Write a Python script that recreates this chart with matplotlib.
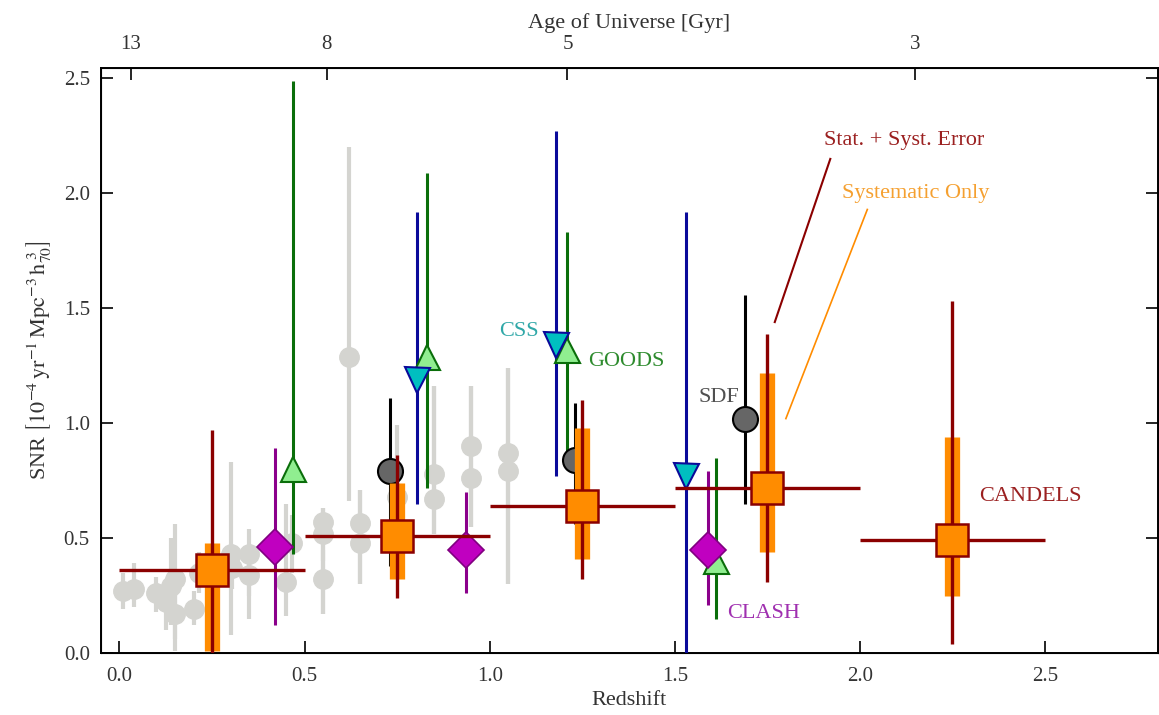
import numpy as np
import matplotlib
matplotlib.use("Agg")
import matplotlib.pyplot as plt

# ============================================================
# DATA
# ============================================================

# literature points (grey): redshift, SNR, lower bound, upper bound
gray_z = [0.01, 0.04, 0.10, 0.125, 0.14, 0.15, 0.15, 0.20, 0.215, 0.30,
          0.305, 0.35, 0.35, 0.45, 0.465, 0.55, 0.55, 0.55, 0.62, 0.65,
          0.65, 0.75, 0.85, 0.85, 0.95, 0.95, 1.05, 1.05]
gray_snr = [0.27, 0.28, 0.26, 0.22, 0.29, 0.32, 0.17, 0.19, 0.35, 0.43,
            0.37, 0.43, 0.34, 0.31, 0.48, 0.57, 0.52, 0.32, 1.29, 0.565,
            0.48, 0.68, 0.78, 0.67, 0.90, 0.76, 0.87, 0.79]
gray_lo = [0.19, 0.20, 0.18, 0.10, 0.12, 0.01, 0.06, 0.12, 0.26, 0.08,
           0.28, 0.15, 0.25, 0.16, 0.35, 0.17, 0.40, 0.17, 0.66, 0.30,
           0.30, 0.45, 0.52, 0.52, 0.55, 0.55, 0.30, 0.30]
gray_hi = [0.35, 0.39, 0.33, 0.30, 0.50, 0.56, 0.28, 0.27, 0.44, 0.83,
           0.47, 0.54, 0.43, 0.65, 0.60, 0.63, 0.63, 0.45, 2.20, 0.71,
           0.71, 0.99, 1.16, 1.16, 1.16, 1.16, 1.24, 1.24]

# GOODS
goods_z = [0.47, 0.83, 1.21, 1.61]
goods_snr = [0.80, 1.29, 1.32, 0.40]
goods_lo = [0.43, 0.72, 0.88, 0.15]
goods_hi = [2.49, 2.09, 1.83, 0.85]

# CSS
css_z = [0.805, 1.18, 1.53]
css_snr = [1.19, 1.34, 0.77]
css_lo = [0.65, 0.77, 0.0]
css_hi = [1.92, 2.27, 1.92]

# SDF
sdf_z = [0.73, 1.23, 1.69]
sdf_snr = [0.79, 0.84, 1.02]
sdf_lo = [0.38, 0.56, 0.65]
sdf_hi = [1.11, 1.09, 1.56]

# CLASH
clash_z = [0.42, 0.935, 1.59]
clash_snr = [0.46, 0.45, 0.45]
clash_lo = [0.12, 0.26, 0.21]
clash_hi = [0.89, 0.70, 0.79]

# CANDELS
candels_z = [0.25, 0.75, 1.25, 1.75, 2.25]
candels_zlo = [0.0, 0.5, 1.0, 1.5, 2.0]
candels_zhi = [0.5, 1.0, 1.5, 2.0, 2.5]
candels_snr = [0.36, 0.51, 0.64, 0.72, 0.49]
candels_tot_lo = [0.0, 0.24, 0.32, 0.31, 0.04]
candels_tot_hi = [0.97, 0.86, 1.10, 1.39, 1.53]
candels_sys_lo = [0.01, 0.32, 0.41, 0.44, 0.25]
candels_sys_hi = [0.48, 0.74, 0.98, 1.22, 0.94]

# top axis: age of universe
age_ticks_z = [0.03, 0.56, 1.21, 2.15]
age_labels = ["13", "8", "5", "3"]


def yerr(snr, lo, hi):
    snr = np.array(snr)
    return [snr - np.array(lo), np.array(hi) - snr]


# ============================================================
# STYLE
# ============================================================

plt.rcParams["font.family"] = "serif"
plt.rcParams["font.serif"] = ["Liberation Serif", "DejaVu Serif"]
plt.rcParams["mathtext.fontset"] = "stix"

fig = plt.figure(figsize=(11.59, 7.15), dpi=100)
ax = fig.add_axes([0.0871, 0.0867, 0.912, 0.818])

# ============================================================
# PLOT
# ============================================================

ax.errorbar(gray_z, gray_snr, yerr=yerr(gray_snr, gray_lo, gray_hi),
            fmt="o", color="#d4d4d0", ms=14, elinewidth=3, capsize=0,
            zorder=1)

ax.errorbar(goods_z, goods_snr, yerr=yerr(goods_snr, goods_lo, goods_hi),
            fmt="^", color="#0a6e0a", mfc="#90ee90", mec="#0a6e0a",
            mew=1.5, ms=18, elinewidth=2.2, capsize=0, zorder=3)

ax.errorbar(css_z, css_snr, yerr=yerr(css_snr, css_lo, css_hi),
            fmt="v", color="#0a0a9a", mfc="#00bfc0", mec="#0a0a9a",
            mew=1.5, ms=18, elinewidth=2.2, capsize=0, zorder=3)

ax.errorbar(sdf_z, sdf_snr, yerr=yerr(sdf_snr, sdf_lo, sdf_hi),
            fmt="o", color="black", mfc="#666666", mec="black",
            mew=1.5, ms=18, elinewidth=2.2, capsize=0, zorder=3)

ax.errorbar(clash_z, clash_snr, yerr=yerr(clash_snr, clash_lo, clash_hi),
            fmt="D", color="#8b008b", mfc="#c000c0", mec="#800080",
            mew=1.2, ms=18, elinewidth=2.2, capsize=0, zorder=3)

# systematic-only errors (thick orange)
ax.errorbar(candels_z, candels_snr,
            yerr=yerr(candels_snr, candels_sys_lo, candels_sys_hi),
            fmt="none", ecolor="#ff8c00", elinewidth=11, capsize=0,
            zorder=4)

# total errors (dark red) and redshift bins
candels_z_arr = np.array(candels_z)
ax.errorbar(candels_z, candels_snr,
            yerr=yerr(candels_snr, candels_tot_lo, candels_tot_hi),
            xerr=[candels_z_arr - np.array(candels_zlo),
                  np.array(candels_zhi) - candels_z_arr],
            fmt="s", color="#8b0000", mfc="#ff8c00", mec="#8b0000",
            mew=1.8, ms=23, elinewidth=2.4, capsize=0, zorder=5)

# ============================================================
# LABELS
# ============================================================

ax.text(1.08, 1.40, "CSS", color="#30a8a8", fontsize=16,
        ha="center", va="center")
ax.text(1.37, 1.27, "GOODS", color="#2e8b2e", fontsize=16,
        ha="center", va="center")
ax.text(1.62, 1.11, "SDF", color="#505050", fontsize=16,
        ha="center", va="center")
ax.text(1.74, 0.17, "CLASH", color="#a030b0", fontsize=16,
        ha="center", va="center")
ax.text(2.46, 0.68, "CANDELS", color="#9b2020", fontsize=16,
        ha="center", va="center")
ax.text(2.12, 2.23, "Stat. + Syst. Error", color="#9b2020", fontsize=16,
        ha="center", va="center")
ax.text(2.15, 2.00, "Systematic Only", color="#f5a030", fontsize=16,
        ha="center", va="center")

ax.plot([1.92, 1.77], [2.15, 1.44], color="#8b0000", lw=1.5, zorder=6)
ax.plot([2.02, 1.80], [1.93, 1.02], color="#ff8c00", lw=1.2, zorder=6)

# ============================================================
# AXES
# ============================================================

ax.set_xlim(-0.05, 2.805)
ax.set_ylim(0, 2.545)

ax.set_xticks([0.0, 0.5, 1.0, 1.5, 2.0, 2.5])
ax.set_xticklabels(["0.0", "0.5", "1.0", "1.5", "2.0", "2.5"])
ax.set_yticks([0.0, 0.5, 1.0, 1.5, 2.0, 2.5])
ax.set_yticklabels(["0.0", "0.5", "1.0", "1.5", "2.0", "2.5"])

ax.tick_params(direction="in", length=8.5, width=1.2, labelsize=15,
               labelcolor="#333333", right=True, top=False)
ax.tick_params(axis="x", pad=10)
ax.tick_params(axis="y", pad=8)

ax.set_xlabel("Redshift", fontsize=16, color="#333333", labelpad=4)
ax.set_ylabel(r"SNR $\left[10^{-4}\,\mathrm{yr}^{-1}\,\mathrm{Mpc}^{-3}"
              r"\,\mathrm{h}_{70}^{\;3}\right]$",
              fontsize=16, color="#333333", labelpad=8)

for side in ["left", "right", "top", "bottom"]:
    ax.spines[side].set_linewidth(1.4)

top = ax.twiny()
top.set_xlim(ax.get_xlim())
top.set_xticks(age_ticks_z)
top.set_xticklabels(age_labels)
top.tick_params(direction="in", length=8.5, width=1.2, labelsize=15,
                labelcolor="#333333", pad=10)
top.set_xlabel("Age of Universe [Gyr]", fontsize=16, color="#333333",
               labelpad=5)

fig.savefig("out.png", dpi=100)
